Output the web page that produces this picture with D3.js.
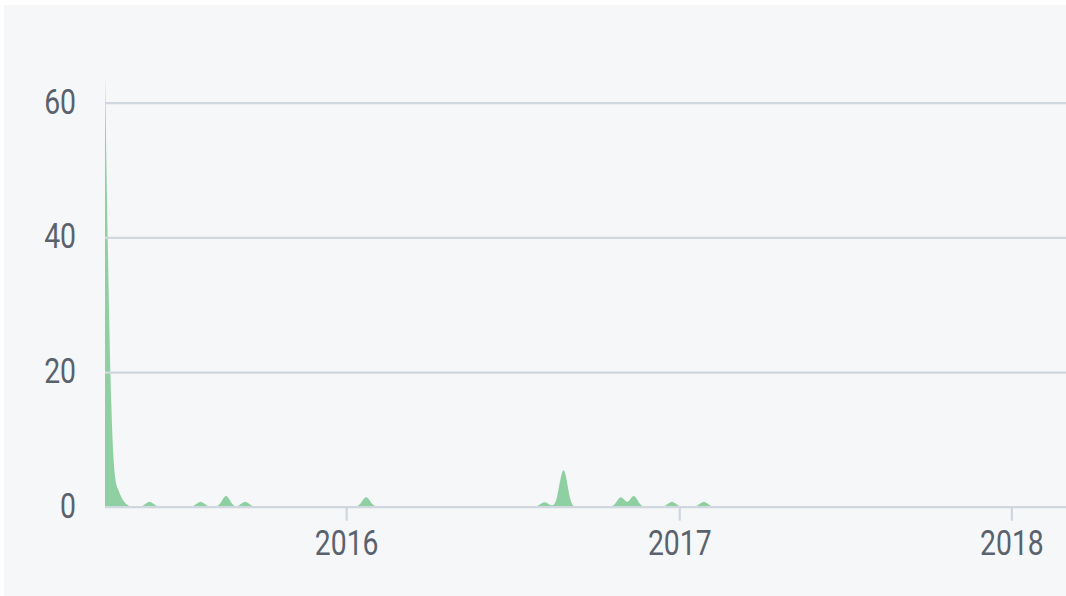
<!DOCTYPE html>
<html><head><meta charset="utf-8">
<script src="https://cdn.jsdelivr.net/npm/d3@7"></script>
<style>body{margin:0;background:#fff}svg{display:block}</style>
</head><body><svg id="c" width="1066" height="596"></svg>
<script>
// Weekly series starting at this date
const startDate = "2015-04-11";
const endDate = "2018-03-02";
const weeklyValues = [
  63.8, 6, 2.5, 0.5, 0, 0, 0, 1.1, 0, 0,    // 0-9
  0, 0, 0, 0, 0, 1.1, 0, 0, 0, 2.4,          // 10-19
  0, 0, 1.1, 0, 0, 0, 0, 0, 0, 0,            // 20-29
  0, 0, 0, 0, 0, 0, 0, 0, 0, 0,              // 30-39
  0, 2.1, 0, 0, 0, 0, 0, 0, 0, 0,            // 40-49
  0, 0, 0, 0, 0, 0, 0, 0, 0, 0,              // 50-59
  0, 0, 0, 0, 0, 0, 0, 0, 0, 1,              // 60-69
  0, 0.4, 8, 0, 0, 0, 0, 0, 0, 0,            // 70-79
  0, 2.1, 0, 2.4, 0, 0, 0, 0, 0, 1.1,        // 80-89
  0, 0, 0, 0, 1.1, 0, 0, 0, 0, 0,            // 90-99
  0, 0, 0, 0, 0, 0, 0, 0, 0, 0,              // 100-109
  0, 0, 0, 0, 0, 0, 0, 0, 0, 0,              // 110-119
  0, 0, 0, 0, 0, 0, 0, 0, 0, 0,              // 120-129
  0, 0, 0, 0, 0, 0, 0, 0, 0, 0,              // 130-139
  0, 0, 0, 0, 0, 0, 0, 0, 0, 0, 0            // 140-150
];
const yTicks = [0, 20, 40, 60];
const xTickLabels = ["2016", "2017", "2018"];

const parse = d3.utcParse("%Y-%m-%d");
const start = parse(startDate);
const data = weeklyValues.map((v, i) => ({ date: d3.utcDay.offset(start, i * 7), value: v }));

const svg = d3.select("#c");
const W = 1066, H = 596;
const left = 105, right = 1066, y0px = 506.7, y60px = 102.7;

svg.append("rect").attr("x", 4).attr("y", 5).attr("width", W - 4).attr("height", H - 5).attr("fill", "#f5f7f9");

const x = d3.scaleUtc().domain([start, parse(endDate)]).range([left, right]);
const y = d3.scaleLinear().domain([0, 60]).range([y0px, y60px]);

const area = d3.area()
  .curve(d3.curveBasis)
  .x(d => x(d.date))
  .y0(y(0))
  .y1(d => y(d.value));

svg.append("path").datum(data).attr("d", area).attr("fill", "#8fd0a2");

const sx = 0.81;
const textColor = "#59626d";
const gridColor = "#d0d7df";

// y axis with grid
const gy = svg.append("g").attr("transform", `translate(${left},0)`)
  .call(d3.axisLeft(y).tickValues(yTicks).tickSize(-(right - left)).tickFormat(d3.format("d")));
gy.select(".domain").remove();
gy.selectAll(".tick line").attr("stroke", gridColor).attr("stroke-width", 2.2);
gy.selectAll(".tick text")
  .attr("x", -29 / sx)
  .attr("dy", "0.3em")
  .attr("transform", `scale(${sx},1)`)
  .attr("fill", textColor)
  .style("font-family", "Roboto, sans-serif")
  .style("font-size", "35px");

// x axis
const yearDates = xTickLabels.map(s => parse(s + "-01-01"));
const gx = svg.append("g").attr("transform", `translate(0,${y0px})`)
  .call(d3.axisBottom(x).tickValues(yearDates).tickSize(14).tickSizeOuter(0).tickPadding(9).tickFormat(d3.utcFormat("%Y")));
gx.select(".domain").remove();
gx.selectAll(".tick line").attr("stroke", gridColor).attr("stroke-width", 2.2);
gx.selectAll(".tick text")
  .attr("transform", `scale(${sx},1)`)
  .attr("fill", textColor)
  .style("font-family", "Roboto, sans-serif")
  .style("font-size", "35px");
</script>
</body></html>
